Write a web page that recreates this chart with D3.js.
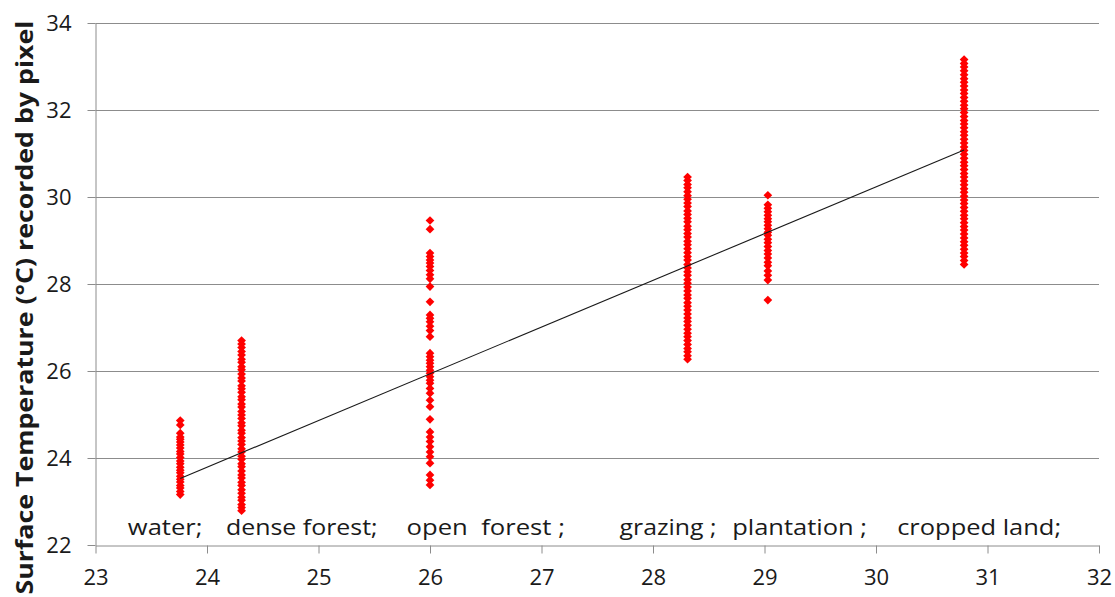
<!DOCTYPE html>
<html lang="en">
<head>
    <meta charset="UTF-8">
    <title>Surface temperature by land cover</title>
    <script src="https://d3js.org/d3.v7.min.js"></script>
    <style>
        body { margin: 0; background: #fff; }
        text { font-family: "Open Sans", sans-serif; fill: #1a1a1a; }
        .grid line { stroke: #8c8c8c; stroke-width: 1; }
        .axis path, .axis line { stroke: #8c8c8c; stroke-width: 1; }
        .cat { white-space: pre; }
    </style>
</head>
<body>
<svg id="svg" width="1115" height="597"></svg>

<script>

// land cover classes and their x positions (mean temperature of the class)
let categories = ['water', 'dense forest', 'open forest', 'grazing', 'plantation', 'cropped land'];
let catX = [23.76, 24.31, 26.0, 28.31, 29.03, 30.79];

// pixel temperatures, one array per class
let waterTemps = [24.86, 24.76, 24.57, 24.48, 24.43, 24.37, 24.3, 24.23, 24.15, 24.09, 24.01,
    23.93, 23.87, 23.79, 23.72, 23.66, 23.58, 23.51, 23.45, 23.37, 23.31, 23.23, 23.16];
let denseForestTemps = [26.7, 26.62, 26.54, 26.45, 26.37, 26.27, 26.2, 26.1, 26.03, 25.93, 25.84,
    25.77, 25.66, 25.59, 25.51, 25.41, 25.34, 25.24, 25.17, 25.07, 24.99, 24.91, 24.81, 24.74,
    24.64, 24.57, 24.47, 24.39, 24.31, 24.21, 24.14, 24.04, 23.97, 23.87, 23.8, 23.7, 23.61,
    23.54, 23.44, 23.37, 23.27, 23.19, 23.1, 23.03, 22.93, 22.86, 22.79];
let openForestTemps = [29.46, 29.26, 28.71, 28.63, 28.55, 28.48, 28.4, 28.31, 28.21, 28.12, 27.94,
    27.59, 27.29, 27.21, 27.13, 27.03, 26.93, 26.79, 26.41, 26.33, 26.25, 26.18, 26.1, 26.02,
    25.95, 25.87, 25.79, 25.72, 25.6, 25.49, 25.33, 25.18, 24.89, 24.6, 24.48, 24.38, 24.26,
    24.14, 24.03, 23.88, 23.61, 23.49, 23.38];
let grazingTemps = [30.46, 30.38, 30.29, 30.21, 30.12, 30.03, 29.95, 29.86, 29.78, 29.68, 29.6,
    29.51, 29.43, 29.33, 29.25, 29.16, 29.08, 28.98, 28.9, 28.81, 28.72, 28.63, 28.55, 28.45,
    28.37, 28.28, 28.2, 28.1, 28.02, 27.93, 27.84, 27.75, 27.67, 27.57, 27.49, 27.4, 27.31,
    27.22, 27.14, 27.05, 26.96, 26.87, 26.79, 26.7, 26.61, 26.52, 26.44, 26.35, 26.27];
let plantationTemps = [30.04, 29.82, 29.74, 29.66, 29.58, 29.5, 29.43, 29.35, 29.27, 29.19, 29.12,
    29.03, 28.95, 28.86, 28.77, 28.69, 28.6, 28.5, 28.42, 28.3, 28.2, 28.09, 27.63];
let croppedTemps = [33.16, 33.07, 32.99, 32.9, 32.81, 32.72, 32.64, 32.55, 32.46, 32.38, 32.29,
    32.2, 32.11, 32.03, 31.94, 31.85, 31.76, 31.68, 31.59, 31.5, 31.42, 31.33, 31.24, 31.15,
    31.07, 30.98, 30.89, 30.8, 30.72, 30.63, 30.54, 30.46, 30.37, 30.28, 30.19, 30.11, 30.02,
    29.93, 29.85, 29.76, 29.67, 29.58, 29.5, 29.41, 29.32, 29.24, 29.15, 29.06, 28.97, 28.89,
    28.8, 28.71, 28.63, 28.54, 28.45];

// linear trend line end points
let trendX = [23.76, 30.79];
let trendY = [23.53, 31.08];

// labels written under the columns
let catLabels = ['water;', 'dense forest;', 'open  forest ;', 'grazing ;', 'plantation ;', 'cropped land;'];
let labelStart = [23.29, 24.17, 25.79, 27.7, 28.71, 30.19];
let labelEnd = [23.96, 25.53, 27.21, 28.57, 29.92, 31.66];
let labelY = 22.23;

let xTicks = [23, 24, 25, 26, 27, 28, 29, 30, 31, 32];
let yTicks = [22, 24, 26, 28, 30, 32, 34];
let yTitle = 'Surface Temperature (\u00B0C) recorded by pixel';

let svg = d3.select('#svg');

let x = d3.scaleLinear().domain([23, 32]).range([95.5, 1099]);
let y = d3.scaleLinear().domain([22, 34]).range([545, 23]);

// horizontal gridlines
svg.append('g')
    .attr('class', 'grid')
    .selectAll('line')
    .data(yTicks.filter(d => d > 22))
    .enter()
    .append('line')
    .attr('x1', x(23))
    .attr('x2', x(32))
    .attr('y1', d => Math.round(y(d)) + 0.5)
    .attr('y2', d => Math.round(y(d)) + 0.5);

// axes
let xAxis = svg.append('g')
    .attr('class', 'axis')
    .attr('transform', 'translate(0,545.5)')
    .call(d3.axisBottom(x).tickValues(xTicks).tickSize(8).tickSizeOuter(0).tickFormat(d3.format('d')));
xAxis.selectAll('text').attr('y', 24).attr('font-size', 22).attr('fill', '#1a1a1a');

let yAxis = svg.append('g')
    .attr('class', 'axis')
    .attr('transform', 'translate(95.5,0)')
    .call(d3.axisLeft(y).tickValues(yTicks).tickSize(8).tickSizeOuter(0).tickFormat(d3.format('d')));
yAxis.selectAll('text').attr('x', -24).attr('font-size', 22).attr('fill', '#1a1a1a');

// scatter columns
let series = [waterTemps, denseForestTemps, openForestTemps, grazingTemps, plantationTemps, croppedTemps];
let points = [];
series.forEach((temps, i) => {
    temps.forEach(t => points.push({cat: categories[i], x: catX[i], y: t}));
});

let diamond = d3.symbol().type(d3.symbolSquare).size(38);

svg.append('g')
    .selectAll('path')
    .data(points)
    .enter()
    .append('path')
    .attr('d', diamond)
    .attr('transform', d => 'translate(' + x(d.x) + ',' + y(d.y) + ') rotate(45)')
    .attr('fill', '#ff0000');

// trend line
let line = d3.line()
    .x(d => x(d[0]))
    .y(d => y(d[1]));

svg.append('path')
    .datum(d3.zip(trendX, trendY))
    .attr('d', line)
    .attr('fill', 'none')
    .attr('stroke', '#1a1a1a')
    .attr('stroke-width', 1.1);

// class labels
svg.append('g')
    .selectAll('text')
    .data(catLabels)
    .enter()
    .append('text')
    .attr('class', 'cat')
    .attr('x', (d, i) => x(labelStart[i]))
    .attr('y', y(labelY))
    .attr('font-size', 21)
    .attr('textLength', (d, i) => x(labelEnd[i]) - x(labelStart[i]))
    .attr('lengthAdjust', 'spacingAndGlyphs')
    .text(d => d);

// y axis title
svg.append('text')
    .attr('transform', 'translate(33,307.5) rotate(-90)')
    .attr('text-anchor', 'middle')
    .attr('font-size', 23)
    .attr('font-weight', 'bold')
    .attr('textLength', 574)
    .attr('lengthAdjust', 'spacingAndGlyphs')
    .text(yTitle);

</script>
</body>
</html>
